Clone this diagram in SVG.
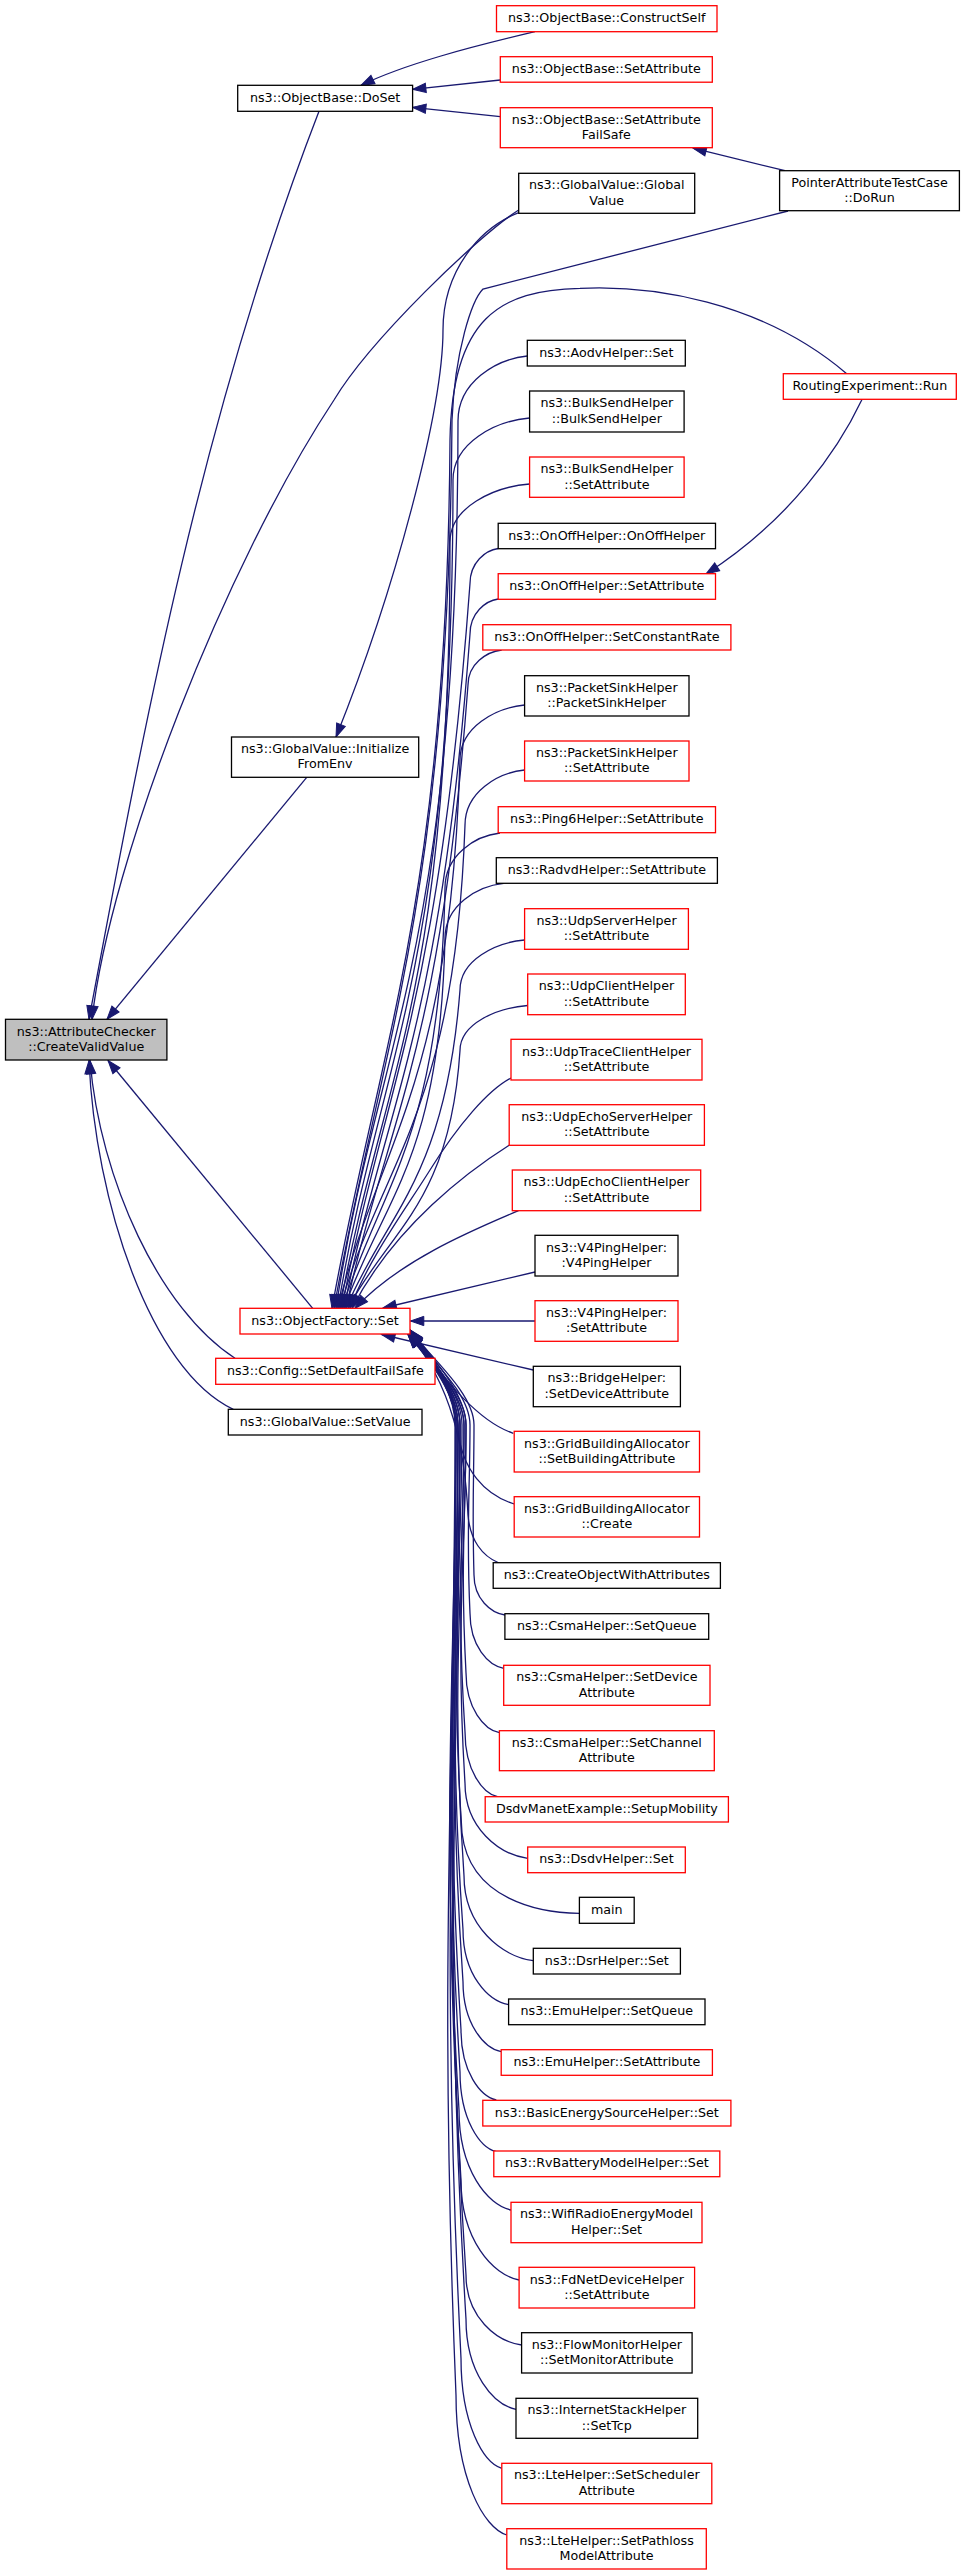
<svg xmlns="http://www.w3.org/2000/svg" width="965" height="2575" viewBox="0 0 965 2575">
<defs>
<marker id="ah" markerUnits="userSpaceOnUse" markerWidth="14" markerHeight="10" viewBox="0 0 14 10" refX="13.3" refY="4.65" orient="auto" overflow="visible">
<path d="M0,0 L13.3,4.65 L0,9.3 Z" fill="#191970" stroke="#191970" stroke-width="1"/>
</marker>
</defs>
<style>
rect{fill:#ffffff;stroke:#000000;stroke-width:1.3}
.r rect{stroke:#ff0000}
.g rect{fill:#bfbfbf}
text{font-family:"DejaVu Sans","Liberation Sans",sans-serif;font-size:12.7px;text-anchor:middle;fill:#000000}
#edges path{fill:none;stroke:#191970;stroke-width:1.3;marker-end:url(#ah)}
</style>
<rect x="0" y="0" width="965" height="2575" style="fill:#ffffff;stroke:none"/>
<g id="edges">
<path d="M535,31.7 C470,47 405,64 361,85.3"/>
<path d="M500.3,80 L412.6,89.3"/>
<path d="M500.3,116.7 L412.6,107.3"/>
<path d="M785,170.7 L693,148.2"/>
<path d="M319,111.3 C203,411 145,719 89,1019.3"/>
<path d="M518.7,210 C479,235 370,340 334,400 C225,565 110,860 92,1019.3"/>
<path d="M518.7,212.7 C480,228 443,270 443,330 C443,410 395,590 336,737"/>
<path d="M306.7,777.3 L107,1019.3"/>
<path d="M312.7,1308.3 L108,1060.5"/>
<path d="M235,1358.3 C160,1310 100,1180 90,1060.5"/>
<path d="M233.3,1409.3 C150,1370 95,1200 89,1060.5"/>
<path d="M862,399.5 C838,450 790,520 706,574"/>
<path d="M846.7,373.7 C760,300 650,285 580,288.3 C500,290 452,318 450,440 C447,900 378,1050 332,1308.3"/>
<path d="M788,211 L483,289 C472,300 455,350 452,420 C449,900 380,1050 334,1308.3"/>
<path d="M527.3,356 C496.1,359.3 458,382 458,421 C458,953 376,1042 336,1308.3"/>
<path d="M529.6,418 C495.1,421.1 453,442.8 453,480 C453,977 378,1060 338,1308.3"/>
<path d="M529.6,484 C493.8,486.9 450,507.2 450,542 C450,1001.6 380,1078 340,1308.3"/>
<path d="M498.2,548.5 C485.6,550.3 470,562.5 470,583.5 C438,1018 382,1090 342,1308.3"/>
<path d="M498.2,599 C485.6,600.8 470,613 470,634 C440,1038 384,1106 344,1308.3"/>
<path d="M501.7,650 C486.5,651.8 468,664 468,685 C440,1059 386,1121 346,1308.3"/>
<path d="M524.6,705 C495.5,707.8 460,727 460,760 C450,1089 378,1144 338,1308.3"/>
<path d="M524.6,770 C497.8,772.8 465,792 465,825 C455,1115 380,1163 340,1308.3"/>
<path d="M500,833 C475.3,835.8 445,855 445,888 C440,1140 382,1182 342,1308.3"/>
<path d="M503.7,883.3 C477.3,886 445,905.3 445,938.3 C440,1160 384,1197 344,1308.3"/>
<path d="M524.6,940 C495.5,942.5 460,960 460,990 C445,1181 386,1213 346,1308.3"/>
<path d="M527.7,1005.5 C497.2,1007.8 460,1023.5 460,1050.5 C450,1205 388,1231 348,1308.3"/>
<path d="M511,1078 C488,1090 458,1125 430,1170 C405,1210 368,1260 350,1308.3"/>
<path d="M509.5,1145 C470,1170 395,1225 352,1308.3"/>
<path d="M518.5,1210.7 C468,1232 398,1262 355,1308.3"/>
<path d="M535,1272 L383,1308"/>
<path d="M535,1321 L410.5,1321"/>
<path d="M533.3,1370 L381.7,1334.5"/>
<path d="M513.3,1433.3 C488,1425 455,1398 410,1330"/>
<path d="M514.2,1504 C485,1495 462,1470 458,1430 C455,1395 438,1360 410,1332"/>
<path d="M499,1563 C482,1556 470,1540 468,1515 C465,1450 452,1385 409,1334.3"/>
<path d="M505,1615 C491,1613 474,1599 474,1575 C472,1507.5 474,1477.5 474,1425 C474,1395 435,1361 410,1331"/>
<path d="M503.7,1668.3 C488.5,1665.6 470,1646.3 470,1613.3 C466,1528.6 470,1490.9 470,1425 C470,1395 435,1363 410,1333"/>
<path d="M499.4,1732.7 C484.4,1729.7 466,1708.7 466,1672.7 C460,1561.2 466,1511.7 466,1425 C466,1395 434,1364.3 409,1334.3"/>
<path d="M497.5,1796.7 C482.9,1793.5 465,1770.7 465,1731.7 C456,1593.7 464,1532.3 464,1425 C464,1395 433,1364.3 408,1334.3"/>
<path d="M527.7,1858.3 C499.5,1854.6 465,1828.3 465,1783.3 C455,1622 466,1550.4 466,1425 C466,1395 435,1360 410,1330"/>
<path d="M579.4,1913.3 C540,1913 470,1900 462,1833 C450,1649.4 462,1567.8 462,1425 C462,1395 435,1362 410,1332"/>
<path d="M533.3,1960.7 C502.1,1956.5 464,1926.7 464,1875.7 C450,1672.9 464,1582.7 464,1425 C464,1395 434,1364.3 409,1334.3"/>
<path d="M508.6,2004.7 C488.1,2001 463,1974.7 463,1929.7 C447,1702.6 460,1601.6 460,1425 C460,1395 435,1361 410,1331"/>
<path d="M501.2,2051.7 C484,2048.2 463,2023.7 463,1981.7 C446,1731.2 460,1619.8 460,1425 C460,1395 435,1363 410,1333"/>
<path d="M496.3,2100 C480.4,2096.5 461,2072 461,2030 C444,1757.8 458,1636.8 458,1425 C458,1395 433,1364.3 408,1334.3"/>
<path d="M496.3,2151.7 C480,2147.7 460,2119.7 460,2071.7 C442,1780.7 458,1651.3 458,1425 C458,1395 435,1360 410,1330"/>
<path d="M511,2210 C487.6,2205 459,2170 459,2110 C440,1801.8 456,1664.8 456,1425 C456,1395 435,1362 410,1332"/>
<path d="M519.1,2280 C493,2275 461,2240 461,2180 C440,1840.3 456,1689.3 456,1425 C456,1395 434,1364.3 409,1334.3"/>
<path d="M521.6,2345 C496.6,2341.5 466,2317 466,2275 C441,1892.5 458,1722.5 458,1425 C458,1395 435,1361 410,1331"/>
<path d="M516,2409.3 C493.5,2404.8 466,2373.3 466,2319.3 C442,1916.9 460,1738 460,1425 C460,1395 435,1363 410,1333"/>
<path d="M501.8,2468.3 C483.4,2462.8 461,2424.3 461,2358.3 C440,1938.3 456,1751.7 456,1425 C456,1395 433,1364.3 408,1334.3"/>
<path d="M506.8,2535 C483.9,2528 456,2479 456,2395 C438,1958.5 455,1764.5 455,1425 C455,1395 435,1362 410,1332"/>
</g>
<g id="n-cvv" class="g"><rect x="5.5" y="1019.3" width="161.4" height="40.7"/><text x="86.2" y="1035.55">ns3::AttributeChecker</text><text x="86.2" y="1050.95">::CreateValidValue</text></g>
<g id="n-doset"><rect x="237.7" y="85.3" width="174.9" height="26"/><text x="325.15" y="101.9">ns3::ObjectBase::DoSet</text></g>
<g id="n-ife"><rect x="231.5" y="737" width="187.2" height="40.3"/><text x="325.1" y="753.05">ns3::GlobalValue::Initialize</text><text x="325.1" y="768.45">FromEnv</text></g>
<g id="n-ofset" class="r"><rect x="240" y="1308.3" width="170" height="25.7"/><text x="325" y="1324.75">ns3::ObjectFactory::Set</text></g>
<g id="n-config" class="r"><rect x="215.7" y="1358.3" width="219.3" height="26"/><text x="325.35" y="1374.9">ns3::Config::SetDefaultFailSafe</text></g>
<g id="n-setvalue"><rect x="228.3" y="1409.3" width="193.7" height="25.7"/><text x="325.15" y="1425.75">ns3::GlobalValue::SetValue</text></g>
<g id="n-constructself" class="r"><rect x="496.5" y="5.7" width="220.5" height="26"/><text x="606.75" y="22.3">ns3::ObjectBase::ConstructSelf</text></g>
<g id="n-obsetattr" class="r"><rect x="500.3" y="56.7" width="212" height="25.5"/><text x="606.3" y="73.05">ns3::ObjectBase::SetAttribute</text></g>
<g id="n-obfailsafe" class="r"><rect x="500.3" y="107.7" width="212" height="40"/><text x="606.3" y="123.6">ns3::ObjectBase::SetAttribute</text><text x="606.3" y="139">FailSafe</text></g>
<g id="n-gvgv"><rect x="518.7" y="173.3" width="176" height="40"/><text x="606.7" y="189.2">ns3::GlobalValue::Global</text><text x="606.7" y="204.6">Value</text></g>
<g id="n-pointer"><rect x="779.6" y="170.7" width="179.8" height="40"/><text x="869.5" y="186.6">PointerAttributeTestCase</text><text x="869.5" y="202">::DoRun</text></g>
<g id="n-routing" class="r"><rect x="783.3" y="373.7" width="173" height="25.6"/><text x="869.8" y="390.1">RoutingExperiment::Run</text></g>
<g id="n-aodv"><rect x="527.3" y="340.3" width="158" height="25.7"/><text x="606.3" y="356.8">ns3::AodvHelper::Set</text></g>
<g id="n-bulk1"><rect x="529.6" y="391" width="154.5" height="41"/><text x="606.85" y="407.4">ns3::BulkSendHelper</text><text x="606.85" y="422.8">::BulkSendHelper</text></g>
<g id="n-bulk2" class="r"><rect x="529.6" y="457" width="154.5" height="40.3"/><text x="606.85" y="473.1">ns3::BulkSendHelper</text><text x="606.85" y="488.5">::SetAttribute</text></g>
<g id="n-onoff1"><rect x="498.2" y="523.3" width="217.3" height="25.4"/><text x="606.85" y="539.6">ns3::OnOffHelper::OnOffHelper</text></g>
<g id="n-onoff2" class="r"><rect x="498.2" y="573.7" width="217.3" height="25.6"/><text x="606.85" y="590.1">ns3::OnOffHelper::SetAttribute</text></g>
<g id="n-onoff3" class="r"><rect x="482.8" y="624.7" width="248.1" height="25.3"/><text x="606.85" y="640.95">ns3::OnOffHelper::SetConstantRate</text></g>
<g id="n-psink1"><rect x="524.6" y="675.7" width="164.4" height="40.3"/><text x="606.8" y="691.75">ns3::PacketSinkHelper</text><text x="606.8" y="707.15">::PacketSinkHelper</text></g>
<g id="n-psink2" class="r"><rect x="524.6" y="741" width="164.4" height="40"/><text x="606.8" y="756.9">ns3::PacketSinkHelper</text><text x="606.8" y="772.3">::SetAttribute</text></g>
<g id="n-ping6" class="r"><rect x="498.2" y="806.7" width="217.3" height="26"/><text x="606.85" y="823.3">ns3::Ping6Helper::SetAttribute</text></g>
<g id="n-radvd"><rect x="496.3" y="857.7" width="221.1" height="25.6"/><text x="606.85" y="874.1">ns3::RadvdHelper::SetAttribute</text></g>
<g id="n-udpserver" class="r"><rect x="524.6" y="908.7" width="163.8" height="40.6"/><text x="606.5" y="924.9">ns3::UdpServerHelper</text><text x="606.5" y="940.3">::SetAttribute</text></g>
<g id="n-udpclient" class="r"><rect x="527.7" y="974" width="157.6" height="40.7"/><text x="606.5" y="990.25">ns3::UdpClientHelper</text><text x="606.5" y="1005.65">::SetAttribute</text></g>
<g id="n-udptrace" class="r"><rect x="511" y="1039.3" width="191" height="40.7"/><text x="606.5" y="1055.55">ns3::UdpTraceClientHelper</text><text x="606.5" y="1070.95">::SetAttribute</text></g>
<g id="n-udpechoserver" class="r"><rect x="509.2" y="1104.7" width="195.2" height="40.6"/><text x="606.8" y="1120.9">ns3::UdpEchoServerHelper</text><text x="606.8" y="1136.3">::SetAttribute</text></g>
<g id="n-udpechoclient" class="r"><rect x="512.3" y="1170" width="188.4" height="40.7"/><text x="606.5" y="1186.25">ns3::UdpEchoClientHelper</text><text x="606.5" y="1201.65">::SetAttribute</text></g>
<g id="n-v4ping1"><rect x="535" y="1235.3" width="143" height="40.7"/><text x="606.5" y="1251.55">ns3::V4PingHelper:</text><text x="606.5" y="1266.95">:V4PingHelper</text></g>
<g id="n-v4ping2" class="r"><rect x="535" y="1300.7" width="143" height="40.6"/><text x="606.5" y="1316.9">ns3::V4PingHelper:</text><text x="606.5" y="1332.3">:SetAttribute</text></g>
<g id="n-bridge"><rect x="533.3" y="1366.3" width="147.1" height="40.4"/><text x="606.85" y="1382.4">ns3::BridgeHelper:</text><text x="606.85" y="1397.8">:SetDeviceAttribute</text></g>
<g id="n-grid1" class="r"><rect x="514.2" y="1431.3" width="185.3" height="40.7"/><text x="606.85" y="1447.55">ns3::GridBuildingAllocator</text><text x="606.85" y="1462.95">::SetBuildingAttribute</text></g>
<g id="n-grid2" class="r"><rect x="514.2" y="1496.7" width="185.3" height="40.3"/><text x="606.85" y="1512.75">ns3::GridBuildingAllocator</text><text x="606.85" y="1528.15">::Create</text></g>
<g id="n-createobj"><rect x="493.2" y="1562.7" width="227.2" height="25.6"/><text x="606.8" y="1579.1">ns3::CreateObjectWithAttributes</text></g>
<g id="n-csma1"><rect x="504.9" y="1613.7" width="203.8" height="25.6"/><text x="606.8" y="1630.1">ns3::CsmaHelper::SetQueue</text></g>
<g id="n-csma2" class="r"><rect x="503.7" y="1665.3" width="206.3" height="40"/><text x="606.85" y="1681.2">ns3::CsmaHelper::SetDevice</text><text x="606.85" y="1696.6">Attribute</text></g>
<g id="n-csma3" class="r"><rect x="499.4" y="1730.7" width="214.9" height="40"/><text x="606.85" y="1746.6">ns3::CsmaHelper::SetChannel</text><text x="606.85" y="1762">Attribute</text></g>
<g id="n-dsdvmanet" class="r"><rect x="485.2" y="1796.7" width="243.2" height="25.3"/><text x="606.8" y="1812.95">DsdvManetExample::SetupMobility</text></g>
<g id="n-dsdv" class="r"><rect x="527.7" y="1847" width="157.6" height="25.7"/><text x="606.5" y="1863.45">ns3::DsdvHelper::Set</text></g>
<g id="n-main"><rect x="579.4" y="1897.3" width="54.8" height="26"/><text x="606.8" y="1913.9">main</text></g>
<g id="n-dsr"><rect x="533.3" y="1948.3" width="147.1" height="25.7"/><text x="606.85" y="1964.75">ns3::DsrHelper::Set</text></g>
<g id="n-emu1"><rect x="508.6" y="1999" width="196.4" height="25.7"/><text x="606.8" y="2015.45">ns3::EmuHelper::SetQueue</text></g>
<g id="n-emu2" class="r"><rect x="501.2" y="2049.7" width="211.2" height="25.6"/><text x="606.8" y="2066.1">ns3::EmuHelper::SetAttribute</text></g>
<g id="n-basicenergy" class="r"><rect x="482.8" y="2100.3" width="248.1" height="25.7"/><text x="606.85" y="2116.75">ns3::BasicEnergySourceHelper::Set</text></g>
<g id="n-rvbattery" class="r"><rect x="493.8" y="2151" width="226" height="25.7"/><text x="606.8" y="2167.45">ns3::RvBatteryModelHelper::Set</text></g>
<g id="n-wifiradio" class="r"><rect x="511" y="2202.3" width="191" height="40.4"/><text x="606.5" y="2218.4">ns3::WifiRadioEnergyModel</text><text x="606.5" y="2233.8">Helper::Set</text></g>
<g id="n-fdnet" class="r"><rect x="519.1" y="2267.3" width="175.5" height="40.7"/><text x="606.85" y="2283.55">ns3::FdNetDeviceHelper</text><text x="606.85" y="2298.95">::SetAttribute</text></g>
<g id="n-flowmon"><rect x="521.6" y="2332.7" width="170.5" height="40.3"/><text x="606.85" y="2348.75">ns3::FlowMonitorHelper</text><text x="606.85" y="2364.15">::SetMonitorAttribute</text></g>
<g id="n-inetstack"><rect x="516" y="2398.3" width="181.7" height="40"/><text x="606.85" y="2414.2">ns3::InternetStackHelper</text><text x="606.85" y="2429.6">::SetTcp</text></g>
<g id="n-lte1" class="r"><rect x="501.8" y="2463.3" width="210" height="40.4"/><text x="606.8" y="2479.4">ns3::LteHelper::SetScheduler</text><text x="606.8" y="2494.8">Attribute</text></g>
<g id="n-lte2" class="r"><rect x="506.8" y="2528.7" width="199.5" height="40.3"/><text x="606.55" y="2544.75">ns3::LteHelper::SetPathloss</text><text x="606.55" y="2560.15">ModelAttribute</text></g>
</svg>
